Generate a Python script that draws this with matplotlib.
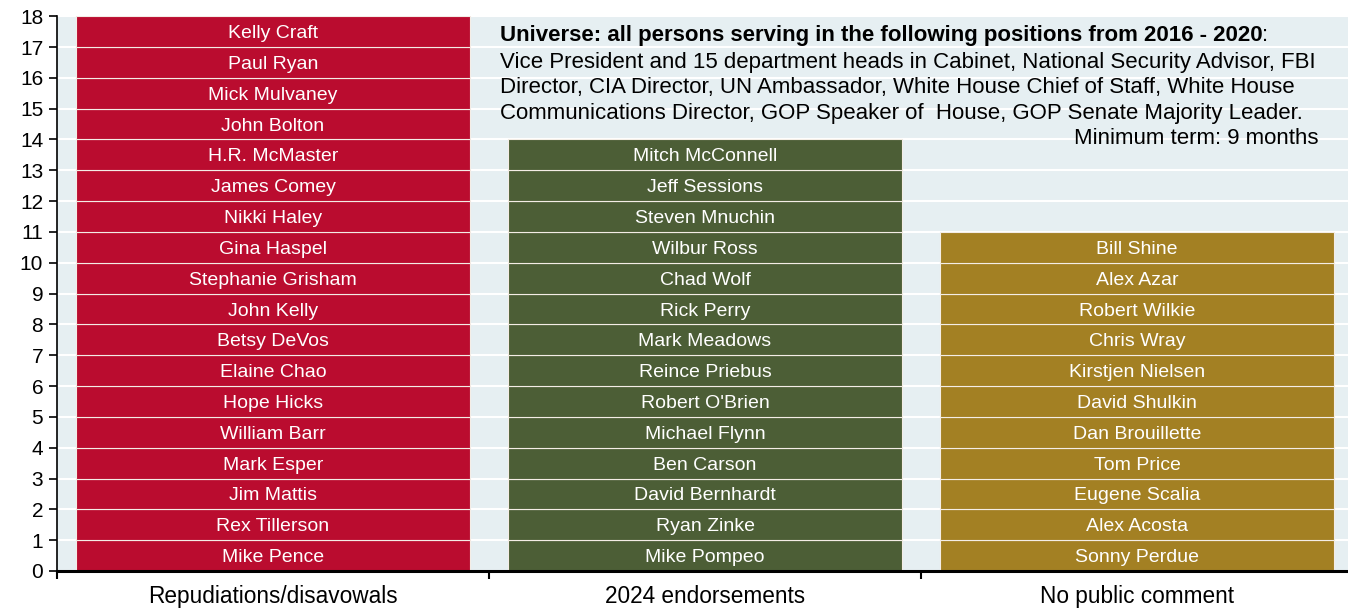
import matplotlib.pyplot as plt
from matplotlib.ticker import FixedLocator, NullFormatter

plt.rcParams['font.family'] = ['Liberation Sans', 'DejaVu Sans']

# names in each group, bottom to top
categories = ['Repudiations/disavowals', '2024 endorsements', 'No public comment']
repudiations = ['Mike Pence', 'Rex Tillerson', 'Jim Mattis', 'Mark Esper', 'William Barr',
                'Hope Hicks', 'Elaine Chao', 'Betsy DeVos', 'John Kelly', 'Stephanie Grisham',
                'Gina Haspel', 'Nikki Haley', 'James Comey', 'H.R. McMaster', 'John Bolton',
                'Mick Mulvaney', 'Paul Ryan', 'Kelly Craft']
endorsements = ['Mike Pompeo', 'Ryan Zinke', 'David Bernhardt', 'Ben Carson', 'Michael Flynn',
                "Robert O'Brien", 'Reince Priebus', 'Mark Meadows', 'Rick Perry', 'Chad Wolf',
                'Wilbur Ross', 'Steven Mnuchin', 'Jeff Sessions', 'Mitch McConnell']
no_comment = ['Sonny Perdue', 'Alex Acosta', 'Eugene Scalia', 'Tom Price', 'Dan Brouillette',
              'David Shulkin', 'Kirstjen Nielsen', 'Chris Wray', 'Robert Wilkie', 'Alex Azar',
              'Bill Shine']
groups = [repudiations, endorsements, no_comment]

note_title = 'Universe: all persons serving in the following positions from 2016 - 2020'
note_lines = ['Vice President and 15 department heads in Cabinet, National Security Advisor, FBI',
              'Director, CIA Director, UN Ambassador, White House Chief of Staff, White House',
              'Communications Director, GOP Speaker of  House, GOP Senate Majority Leader.']
note_min = 'Minimum term: 9 months'

colors = ['#BA0C2F', '#4C5E36', '#A38023']
bg = '#E6EFF2'

fig = plt.figure(figsize=(13.48, 6.09), dpi=100)
ax = fig.add_axes([0.0423, 0.0624, 0.9614, 0.911])
ax.set_facecolor(bg)

for i, (names, col) in enumerate(zip(groups, colors)):
    for j, name in enumerate(names):
        ax.bar(i, 1, bottom=j, width=0.91, color=col, edgecolor='#F4EDE6',
               linewidth=0.8, zorder=2)
        ax.text(i, j + 0.5, name, ha='center', va='center_baseline', color='white',
                fontsize=14, zorder=3)

ax.set_xlim(-0.5, 2.5)
ax.set_ylim(0, 18)
ax.set_yticks(range(0, 19))
ax.yaxis.grid(True, color='white', linewidth=1.5, zorder=1)
ax.set_axisbelow(True)

ax.set_xticks(range(3))
ax.set_xticklabels(categories, fontsize=16.3)
ax.xaxis.set_minor_locator(FixedLocator([-0.5, 0.5, 1.5, 2.5]))
ax.xaxis.set_minor_formatter(NullFormatter())
ax.tick_params(axis='x', which='major', length=0, pad=10)
ax.tick_params(axis='x', which='minor', length=6, width=1.5, direction='out')
ax.tick_params(axis='y', labelsize=15, length=6, width=1.2, direction='out', pad=4)

for s in ['top', 'right']:
    ax.spines[s].set_visible(False)
ax.spines['left'].set_linewidth(1.2)
ax.spines['bottom'].set_linewidth(2.2)

# note block in the upper right
t = ax.text(0.525, 17.18, note_title, fontsize=16, fontweight='bold',
            ha='left', va='baseline', zorder=4)
ax.annotate(':', xy=(1, 0), xycoords=t, ha='left', va='bottom', fontsize=16, zorder=4)
for k, line in enumerate(note_lines):
    ax.text(0.525, 16.32 - 0.82 * k, line, fontsize=16, ha='left', va='baseline', zorder=4)
ax.text(2.42, 13.84, note_min, fontsize=16, ha='right', va='baseline', zorder=4)

fig.savefig('out.png', dpi=100)
